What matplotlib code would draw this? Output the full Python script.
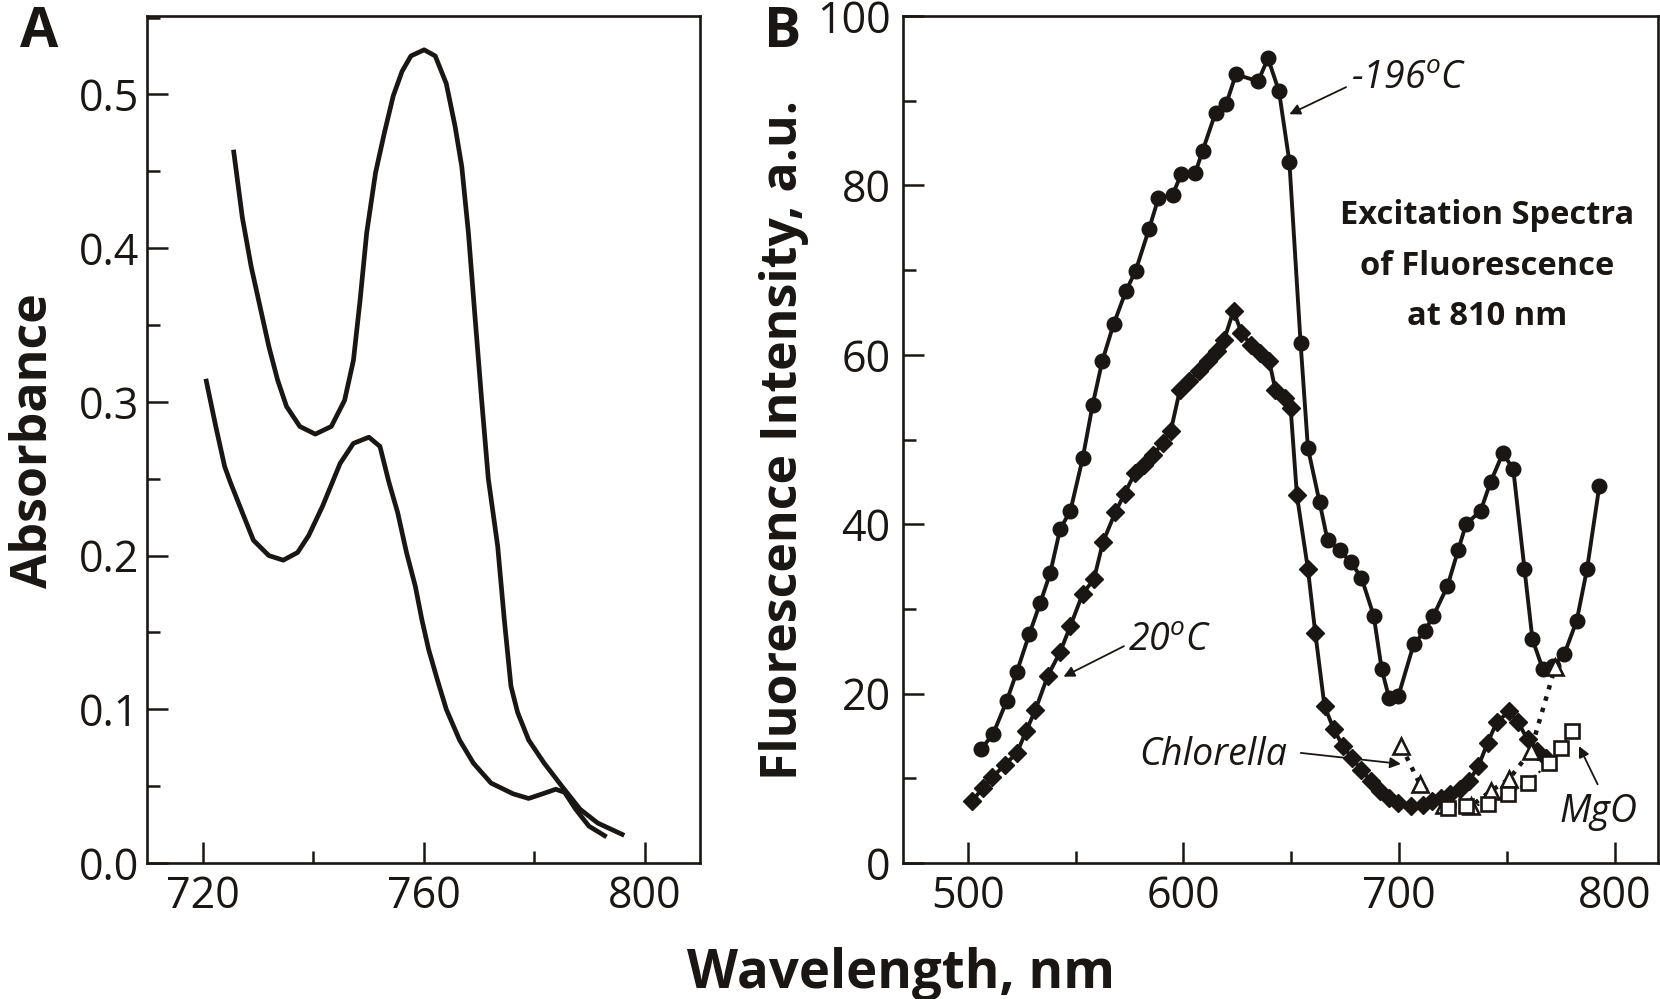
import matplotlib
matplotlib.use("Agg")
import matplotlib.pyplot as plt
from matplotlib.ticker import MultipleLocator, FormatStrFormatter

plt.rcParams['font.family'] = ['Open Sans', 'DejaVu Sans']
plt.rcParams['mathtext.fontset'] = 'custom'
plt.rcParams['mathtext.it'] = 'Open Sans:italic'
plt.rcParams['mathtext.rm'] = 'Open Sans'

# panel A: absorbance spectra
a_upper_x = [725.6, 727.2, 728.8, 730.4, 732.0, 733.6, 735.2, 737.6, 740.4, 743.3,
             745.7, 747.3, 748.5, 749.7, 751.3, 752.9, 754.5, 756.1, 757.7, 760.1,
             762.1, 764.1, 765.7, 766.9, 768.1, 769.3, 770.5, 771.7, 773.4, 774.6,
             775.8, 777.0, 779.0, 781.8, 785.0, 788.3, 791.5, 796.3]
a_upper_y = [0.464, 0.420, 0.388, 0.362, 0.336, 0.314, 0.297, 0.284, 0.279, 0.284,
             0.301, 0.327, 0.366, 0.410, 0.449, 0.475, 0.499, 0.515, 0.525, 0.529,
             0.525, 0.507, 0.479, 0.453, 0.410, 0.355, 0.301, 0.250, 0.206, 0.158,
             0.115, 0.098, 0.080, 0.065, 0.050, 0.035, 0.026, 0.018]
a_lower_x = [720.6, 722.4, 724.0, 725.0, 727.2, 729.2, 732.0, 734.6, 737.2, 739.2,
             741.7, 744.9, 747.3, 750.1, 752.1, 753.7, 755.3, 756.9, 758.5, 759.7,
             760.9, 762.5, 764.1, 766.5, 769.0, 772.2, 776.2, 779.0, 781.5, 783.9,
             785.5, 787.5, 789.9, 793.1]
a_lower_y = [0.315, 0.284, 0.258, 0.248, 0.228, 0.210, 0.200, 0.197, 0.202, 0.213,
             0.232, 0.260, 0.273, 0.277, 0.271, 0.248, 0.228, 0.202, 0.180, 0.158,
             0.139, 0.119, 0.100, 0.080, 0.065, 0.052, 0.045, 0.042, 0.045, 0.048,
             0.046, 0.035, 0.024, 0.017]

# panel B: excitation spectra
cold_x = [506.3, 511.7, 518.0, 522.8, 528.5, 533.6, 538.2, 542.8, 547.6, 553.3,
          557.9, 562.4, 567.6, 573.3, 577.8, 584.1, 588.4, 595.0, 598.9, 605.5,
          608.9, 614.9, 619.8, 624.3, 634.6, 639.2, 644.3, 649.1, 654.3, 657.7,
          663.1, 666.8, 672.5, 677.6, 682.5, 688.2, 691.9, 695.3, 699.6, 706.7,
          711.9, 715.9, 722.4, 727.3, 731.0, 737.8, 742.4, 748.1, 752.9, 758.1,
          761.8, 766.6, 771.5, 776.6, 782.3, 787.1, 792.8]
cold_y = [13.5, 15.2, 19.1, 22.6, 27.0, 30.7, 34.2, 39.4, 41.6, 47.8,
          54.1, 59.3, 63.6, 67.5, 69.9, 74.9, 78.5, 78.9, 81.3, 81.5,
          84.1, 88.6, 89.6, 93.1, 92.3, 95.0, 91.1, 82.8, 61.4, 49.0,
          42.6, 38.1, 36.9, 35.5, 33.7, 29.2, 22.9, 19.5, 19.7, 25.8,
          27.4, 29.2, 32.7, 36.9, 40.0, 41.6, 45.0, 48.4, 46.5, 34.7,
          26.4, 22.9, 23.3, 24.7, 28.6, 34.7, 44.5]
warm_x = [502.0, 507.1, 511.4, 517.1, 522.8, 527.1, 531.4, 537.1, 542.8, 547.6,
          553.3, 558.5, 562.7, 568.4, 572.7, 577.6, 581.8, 586.1, 590.4, 594.1,
          598.4, 602.7, 607.0, 611.2, 615.5, 618.9, 623.2, 626.9, 631.2, 635.4,
          639.7, 642.6, 646.9, 649.7, 652.6, 657.7, 661.1, 665.4, 669.7, 673.9,
          678.2, 682.5, 686.8, 691.0, 695.3, 699.6, 705.3, 711.0, 715.3, 719.6,
          723.8, 728.1, 732.4, 736.7, 741.0, 745.2, 750.9, 755.2, 759.5, 763.8,
          768.0]
warm_y = [7.3, 8.9, 10.1, 11.6, 13.0, 15.6, 18.1, 22.1, 24.9, 28.0,
          31.8, 33.5, 37.9, 41.4, 43.6, 46.1, 47.0, 48.2, 49.6, 51.0,
          55.9, 56.9, 58.1, 59.3, 60.4, 61.8, 65.2, 62.6, 61.2, 60.2,
          59.3, 55.9, 54.9, 53.7, 43.4, 34.7, 27.2, 18.5, 15.8, 13.8,
          12.4, 11.0, 9.7, 8.5, 7.7, 7.1, 6.7, 6.9, 7.3, 7.7,
          8.1, 8.7, 9.7, 11.4, 14.2, 16.6, 17.9, 16.6, 14.6, 13.2,
          12.4]
chlorella_x = [701.0, 709.6, 720.8, 733.2, 742.4, 750.9, 760.9, 772.3]
chlorella_y = [13.8, 9.3, 6.9, 6.7, 8.5, 9.9, 13.2, 23.1]
mgo_x = [722.6, 731.2, 741.0, 750.3, 759.6, 769.5, 775.2, 780.0]
mgo_y = [6.5, 6.7, 7.0, 8.1, 9.5, 11.8, 13.6, 15.6]

INK = '#1a1614'

fig = plt.figure(figsize=(16.6, 9.99), dpi=100)
ax_a = fig.add_axes([0.0887, 0.1361, 0.3330, 0.8479])
ax_b = fig.add_axes([0.5440, 0.1361, 0.4548, 0.8479])

tick_size = 31
for ax in (ax_a, ax_b):
    for s in ax.spines.values():
        s.set_linewidth(1.9)
        s.set_color(INK)
    ax.tick_params(which='both', direction='in', width=1.8, labelsize=tick_size,
                   top=False, right=False, color=INK, labelcolor=INK)
    ax.tick_params(which='major', length=15)
    ax.tick_params(which='minor', length=9)
    ax.tick_params(axis='x', pad=8)

# --- A ---
ax_a.plot(a_upper_x, a_upper_y, color=INK, lw=3.4, solid_joinstyle='round',
          solid_capstyle='butt')
ax_a.plot(a_lower_x, a_lower_y, color=INK, lw=3.4, solid_joinstyle='round',
          solid_capstyle='butt')
ax_a.set_xlim(710, 810)
ax_a.set_ylim(0, 0.551)
ax_a.xaxis.set_major_locator(MultipleLocator(40))
ax_a.xaxis.set_minor_locator(MultipleLocator(20))
ax_a.yaxis.set_major_locator(MultipleLocator(0.1))
ax_a.yaxis.set_minor_locator(MultipleLocator(0.05))
ax_a.yaxis.set_major_formatter(FormatStrFormatter('%.1f'))
ax_a.tick_params(axis='y', pad=6)

# --- B ---
ax_b.plot(cold_x, cold_y, color=INK, lw=2.8, marker='o', ms=10.5)
ax_b.plot(warm_x, warm_y, color=INK, lw=2.8, marker='D', ms=9.5)
ax_b.plot(chlorella_x, chlorella_y, color=INK, lw=3.2, ls=':',
          marker='^', ms=12, mfc='white', mec=INK, mew=1.9)
ax_b.plot(mgo_x, mgo_y, color=INK, lw=1.6, ls=':',
          marker='s', ms=10, mfc='white', mec=INK, mew=1.9)
ax_b.set_xlim(470, 820)
ax_b.set_ylim(0, 100)
ax_b.xaxis.set_major_locator(MultipleLocator(100))
ax_b.xaxis.set_minor_locator(MultipleLocator(50))
ax_b.yaxis.set_major_locator(MultipleLocator(20))
ax_b.yaxis.set_minor_locator(MultipleLocator(10))
ax_b.tick_params(axis='y', pad=9)

arrow = dict(arrowstyle='-|>', lw=1.3, color=INK, mutation_scale=16,
             shrinkA=0, shrinkB=0)
note = dict(fontsize=27, style='italic', color=INK)
ax_b.annotate('', xy=(649.1, 88.4), xytext=(675.4, 91.6), arrowprops=arrow)
ax_b.text(677.6, 91.35, r'-196$^{\mathit{o}}$C', va='baseline', ha='left', **note)
ax_b.annotate('', xy=(544.4, 22.0), xytext=(572.4, 25.6), arrowprops=arrow)
ax_b.text(574.5, 25.0, r'20$^{\mathit{o}}$C', va='baseline', ha='left', **note)
ax_b.annotate('', xy=(700.8, 11.7), xytext=(654.4, 13.0), arrowprops=arrow)
ax_b.text(579.6, 11.6, 'Chlorella', va='baseline', ha='left', **note)
ax_b.annotate('', xy=(783.4, 13.8), xytext=(792.0, 9.3), arrowprops=arrow)
ax_b.text(774.2, 4.9, 'MgO', va='baseline', ha='left', **note)

for txt, yv in [('Excitation Spectra', 76.4), ('of Fluorescence', 70.4),
                ('at 810 nm', 64.5)]:
    ax_b.text(740.6, yv, txt, ha='center', va='center', fontsize=23.5,
              fontweight='bold', color=INK)

fig.text(0.0206, 0.5586, 'Absorbance', rotation=90, ha='center', va='center',
         fontsize=36, fontweight='bold', color=INK)
fig.text(0.472, 0.5596, 'Fluorescence Intensity, a.u.', rotation=90, ha='center',
         va='center', fontsize=36, fontweight='bold', color=INK)
fig.text(0.543, 0.011, 'Wavelength, nm', ha='center', va='baseline',
         fontsize=38, fontweight='bold', color=INK)
fig.text(0.012, 0.995, 'A', ha='left', va='top', fontsize=40,
         fontweight='bold', color=INK)
fig.text(0.460, 0.995, 'B', ha='left', va='top', fontsize=40,
         fontweight='bold', color=INK)

fig.savefig('out.png', dpi=100)
